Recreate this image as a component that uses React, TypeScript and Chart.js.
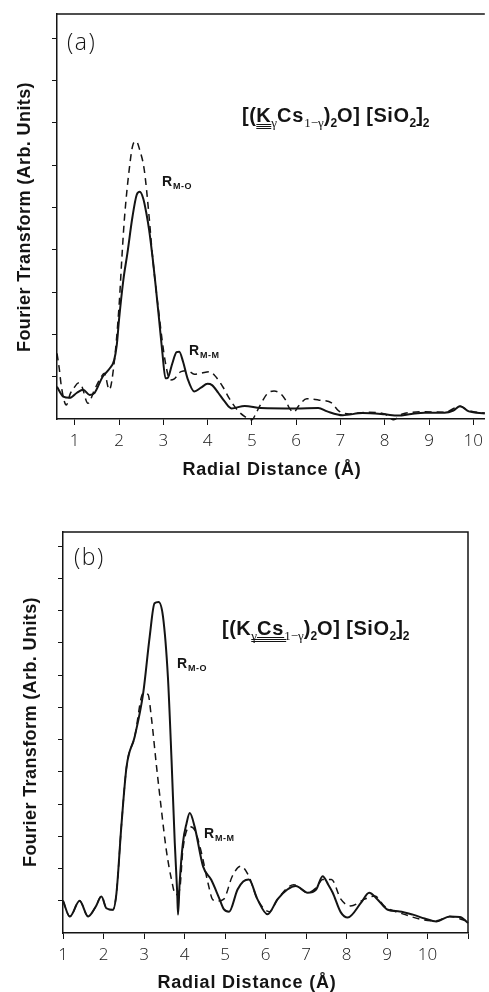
import React, { useEffect, useRef } from 'react';
import { Chart, registerables } from 'chart.js';

Chart.register(...registerables);

// ---------- Panel (a) data ----------
const A_X_TICKS = [1, 2, 3, 4, 5, 6, 7, 8, 9, 10];
const A_X_LABELS = ['1', '2', '3', '4', '5', '6', '7', '8', '9', '10'];
const A_Y_TICKS = [1, 2, 3, 4, 5, 6, 7, 8, 9];

const A_SOLID_X = [0.6, 0.74, 0.89, 1.05, 1.19, 1.34, 1.45, 1.63, 1.78, 1.89, 1.95, 2.0, 2.1, 2.19, 2.3, 2.4, 2.47, 2.55, 2.62, 2.68, 2.76, 2.83, 2.91, 2.98, 3.05, 3.1, 3.2, 3.3, 3.36, 3.45, 3.55, 3.7, 3.85, 4.0, 4.1, 4.24, 4.38, 4.54, 4.84, 5.2, 6.0, 6.5, 6.7, 7.05, 7.5, 8.0, 8.3, 8.6, 8.9, 9.35, 9.55, 9.7, 9.9, 10.26];
const A_SOLID_Y = [0.76, 0.53, 0.5, 0.62, 0.69, 0.57, 0.62, 1.0, 1.18, 1.39, 1.75, 2.34, 3.3, 3.92, 4.75, 5.3, 5.37, 5.2, 4.85, 4.47, 3.8, 3.13, 2.3, 1.56, 0.96, 0.97, 1.3, 1.58, 1.59, 1.34, 0.95, 0.65, 0.74, 0.83, 0.8, 0.62, 0.42, 0.25, 0.31, 0.26, 0.25, 0.26, 0.18, 0.09, 0.14, 0.11, 0.08, 0.12, 0.15, 0.15, 0.2, 0.3, 0.18, 0.13];

const A_DASHED_X = [0.6, 0.65, 0.7, 0.81, 0.9, 1.0, 1.08, 1.15, 1.3, 1.45, 1.6, 1.67, 1.78, 1.89, 2.0, 2.07, 2.12, 2.23, 2.32, 2.39, 2.47, 2.57, 2.68, 2.75, 2.9, 3.05, 3.16, 3.25, 3.4, 3.55, 3.7, 3.85, 4.05, 4.2, 4.35, 4.5, 4.7, 4.85, 5.0, 5.1, 5.2, 5.35, 5.5, 5.65, 5.76, 5.85, 5.95, 6.05, 6.24, 6.5, 6.8, 6.96, 7.2, 7.6, 8.0, 8.2, 8.4, 8.9, 9.35, 9.7, 9.9, 10.26];
const A_DASHED_Y = [1.55, 1.2, 0.76, 0.33, 0.6, 0.76, 0.85, 0.8, 0.37, 0.7, 1.0, 1.08, 0.69, 1.32, 2.65, 3.9, 4.7, 5.89, 6.5, 6.56, 6.35, 5.89, 4.78, 3.92, 2.5, 1.32, 0.92, 0.95, 1.12, 1.14, 1.06, 1.08, 1.12, 0.98, 0.75, 0.47, 0.18, 0.05, -0.02, 0.15, 0.35, 0.6, 0.66, 0.6, 0.45, 0.25, 0.16, 0.3, 0.48, 0.45, 0.38, 0.19, 0.12, 0.16, 0.12, -0.02, 0.12, 0.17, 0.16, 0.3, 0.2, 0.14];

// ---------- Panel (b) data ----------
const B_X_TICKS = [1, 2, 3, 4, 5, 6, 7, 8, 9, 10, 11];
const B_X_LABELS = ['1', '2', '3', '4', '5', '6', '7', '8', '9', '10', ''];
const B_Y_TICKS = [1, 2, 3, 4, 5, 6, 7, 8, 9, 10, 11, 12];

const B_SOLID_X = [1.0, 1.17, 1.41, 1.62, 1.8, 1.95, 2.07, 2.23, 2.32, 2.44, 2.57, 2.77, 2.98, 3.14, 3.26, 3.36, 3.47, 3.59, 3.68, 3.76, 3.82, 3.84, 3.88, 3.96, 4.05, 4.13, 4.25, 4.46, 4.66, 4.85, 4.97, 5.1, 5.31, 5.45, 5.59, 5.8, 6.05, 6.3, 6.54, 6.75, 7.04, 7.25, 7.41, 7.55, 7.66, 7.86, 8.03, 8.36, 8.56, 8.76, 9.02, 9.31, 9.64, 9.93, 10.22, 10.55, 10.8, 11.0];
const B_SOLID_Y = [1.0, 0.51, 1.0, 0.51, 0.8, 1.13, 0.77, 0.72, 1.24, 3.3, 5.16, 6.09, 7.44, 9.19, 10.23, 10.27, 9.81, 7.95, 5.37, 2.79, 1.24, 0.57, 1.55, 2.79, 3.4, 3.72, 3.3, 2.06, 1.65, 1.1, 0.74, 0.66, 1.35, 1.6, 1.66, 1.05, 0.58, 1.05, 1.35, 1.46, 1.25, 1.35, 1.76, 1.5, 1.25, 0.64, 0.48, 0.94, 1.25, 1.05, 0.72, 0.67, 0.57, 0.45, 0.36, 0.51, 0.5, 0.31];

const B_DASHED_X = [1.0, 1.17, 1.41, 1.62, 1.8, 1.95, 2.07, 2.23, 2.32, 2.44, 2.57, 2.77, 2.98, 3.1, 3.18, 3.31, 3.43, 3.55, 3.68, 3.78, 3.88, 3.96, 4.13, 4.25, 4.42, 4.58, 4.7, 4.81, 4.97, 5.18, 5.39, 5.59, 5.8, 6.1, 6.3, 6.7, 7.04, 7.25, 7.41, 7.63, 7.86, 8.1, 8.45, 8.7, 8.94, 9.45, 9.89, 10.22, 10.55, 11.0];
const B_DASHED_Y = [1.0, 0.51, 1.0, 0.51, 0.8, 1.15, 0.77, 0.72, 1.24, 3.3, 5.16, 6.09, 7.44, 7.4, 6.71, 5.16, 3.82, 2.58, 1.65, 1.19, 1.34, 2.58, 3.3, 3.2, 2.48, 1.55, 1.03, 0.99, 1.05, 1.76, 2.07, 1.76, 1.05, 0.66, 1.05, 1.5, 1.25, 1.4, 1.66, 1.66, 1.05, 0.84, 1.05, 1.15, 0.83, 0.57, 0.41, 0.38, 0.51, 0.36];

// ---------- Text ----------
const Y_TITLE = 'Fourier Transform (Arb. Units)';
const X_TITLE = 'Radial Distance (Å)';
const PEAK_MAIN = 'R';
const PEAK_MO = 'M-O';
const PEAK_MM = 'M-M';

const W = 489;
const H = 496;
const INK = '#141414';
const SANS = '"Liberation Sans", Arial, sans-serif';
const LIGHT = '"Open Sans", "DejaVu Sans", sans-serif';

type Seg = { t: string; font: string; dy?: number; ls?: number };

function drawSegs(ctx: CanvasRenderingContext2D, segs: Seg[], x: number, y: number) {
  const pos: { x: number; w: number }[] = [];
  let cx = x;
  for (const s of segs) {
    ctx.font = s.font;
    (ctx as any).letterSpacing = `${s.ls || 0}px`;
    ctx.fillText(s.t, cx, y + (s.dy || 0));
    const w = ctx.measureText(s.t).width;
    pos.push({ x: cx, w });
    cx += w;
  }
  (ctx as any).letterSpacing = '0px';
  return pos;
}

function hline(ctx: CanvasRenderingContext2D, x1: number, x2: number, y: number, lw = 1) {
  const yy = Math.round(y) + 0.5;
  ctx.beginPath();
  ctx.lineWidth = lw;
  ctx.moveTo(x1, yy);
  ctx.lineTo(x2, yy);
  ctx.stroke();
}

function formulaSegs(): Seg[] {
  const B = `bold 20px ${SANS}`;
  const S = `bold 12px ${SANS}`;
  const G = `13px "Liberation Serif", serif`;
  return [
    { t: '[(', font: B, ls: 0.5 },
    { t: 'K', font: B, ls: 0.5 },
    { t: 'γ', font: G, dy: 5 },
    { t: 'Cs', font: B, ls: 0.8 },
    { t: '1−γ', font: G, dy: 5 },
    { t: ')', font: B },
    { t: '2', font: S, dy: 5 },
    { t: 'O] [SiO', font: B, ls: 0.5 },
    { t: '2', font: S, dy: 5 },
    { t: ']', font: B },
    { t: '2', font: S, dy: 5 },
  ];
}

type Spec = {
  tag: string;
  xMin: number; xMax: number; yMax: number;
  xTicks: number[]; xLabels: string[]; yTicks: number[];
  sx: number[]; sy: number[]; dx: number[]; dy: number[];
  area: { left: number; top: number; right: number; bottom: number };
  frameRight: boolean;
  tagPos: [number, number];
  formulaPos: [number, number];
  under: 'K' | 'Cs';
  rmo: [number, number];
  rmm: [number, number];
  xTitle: [number, number];
  yTitle: [number, number];
};

const SPEC_A: Spec = {
  tag: '(a)',
  xMin: 0.6, xMax: 10.26, yMax: 9.57,
  xTicks: A_X_TICKS, xLabels: A_X_LABELS, yTicks: A_Y_TICKS,
  sx: A_SOLID_X, sy: A_SOLID_Y, dx: A_DASHED_X, dy: A_DASHED_Y,
  area: { left: 57, top: 14, right: 489, bottom: 419 },
  frameRight: false,
  tagPos: [67, 43],
  formulaPos: [242, 122],
  under: 'K',
  rmo: [162, 186],
  rmm: [189, 355],
  xTitle: [272, 470],
  yTitle: [25, 217],
};

const SPEC_B: Spec = {
  tag: '(b)',
  xMin: 1, xMax: 11, yMax: 12.44,
  xTicks: B_X_TICKS, xLabels: B_X_LABELS, yTicks: B_Y_TICKS,
  sx: B_SOLID_X, sy: B_SOLID_Y, dx: B_DASHED_X, dy: B_DASHED_Y,
  area: { left: 63, top: 36, right: 468, bottom: 437 },
  frameRight: true,
  tagPos: [74, 62],
  formulaPos: [222, 139],
  under: 'Cs',
  rmo: [177, 172],
  rmm: [204, 342],
  xTitle: [247, 487],
  yTitle: [31, 236],
};

function makeConfig(sp: Spec): any {
  const decor = {
    id: 'decor',
    afterDraw(chart: any) {
      const ctx: CanvasRenderingContext2D = chart.ctx;
      const ca = chart.chartArea;
      ctx.save();
      ctx.strokeStyle = INK;
      ctx.fillStyle = INK;
      // frame
      ctx.beginPath();
      ctx.lineWidth = 1.5;
      ctx.moveTo(ca.left - 0.75, ca.top);
      ctx.lineTo(ca.right, ca.top);
      if (sp.frameRight) ctx.lineTo(ca.right, ca.bottom);
      ctx.stroke();
      // tag
      ctx.textBaseline = 'middle';
      ctx.textAlign = 'left';
      ctx.font = `300 23px ${LIGHT}`;
      (ctx as any).letterSpacing = '1.5px';
      ctx.fillText(sp.tag, sp.tagPos[0], sp.tagPos[1]);
      (ctx as any).letterSpacing = '0px';
      // formula
      ctx.textBaseline = 'alphabetic';
      const pos = drawSegs(ctx, formulaSegs(), sp.formulaPos[0], sp.formulaPos[1]);
      const by = sp.formulaPos[1];
      if (sp.under === 'K') {
        const k = pos[1];
        hline(ctx, k.x, k.x + k.w, by + 2, 1);
        hline(ctx, k.x, k.x + k.w, by + 4, 1);
        hline(ctx, k.x, k.x + k.w, by + 6, 1);
      } else {
        const g = pos[2];
        const c = pos[3];
        hline(ctx, c.x, c.x + c.w, by + 2, 1);
        hline(ctx, g.x, c.x + c.w + 2, by + 4, 1);
        hline(ctx, g.x, c.x + c.w + 2, by + 6, 1);
      }
      // peak labels
      const peak = (p: [number, number], sub: string) => {
        drawSegs(ctx, [
          { t: PEAK_MAIN, font: `bold 14px ${SANS}`, ls: 1 },
          { t: sub, font: `bold 9px ${SANS}`, dy: 3, ls: 0.5 },
        ], p[0], p[1]);
      };
      peak(sp.rmo, PEAK_MO);
      peak(sp.rmm, PEAK_MM);
      // axis titles
      ctx.textAlign = 'center';
      ctx.textBaseline = 'middle';
      ctx.font = `bold 18px ${SANS}`;
      (ctx as any).letterSpacing = '0.8px';
      ctx.fillText(X_TITLE, sp.xTitle[0], sp.xTitle[1]);
      (ctx as any).letterSpacing = '0.4px';
      ctx.translate(sp.yTitle[0], sp.yTitle[1]);
      ctx.rotate(-Math.PI / 2);
      ctx.fillText(Y_TITLE, 0, 0);
      (ctx as any).letterSpacing = '0px';
      ctx.restore();
    },
  };

  const toPts = (xs: number[], ys: number[]) => xs.map((x, i) => ({ x, y: ys[i] }));

  return {
    type: 'line',
    data: {
      datasets: [
        {
          label: 'solid',
          data: toPts(sp.sx, sp.sy),
          borderColor: INK,
          borderWidth: 2,
          pointRadius: 0,
          fill: false,
          cubicInterpolationMode: 'monotone',
          clip: false,
        },
        {
          label: 'dashed',
          data: toPts(sp.dx, sp.dy),
          borderColor: INK,
          borderWidth: 1.5,
          borderDash: [7, 5],
          pointRadius: 0,
          fill: false,
          cubicInterpolationMode: 'monotone',
          clip: false,
        },
      ],
    },
    options: {
      responsive: false,
      animation: false,
      events: [],
      layout: { padding: { left: 0, top: sp.area.top, right: W - sp.area.right, bottom: 0 } },
      plugins: { legend: { display: false }, tooltip: { enabled: false } },
      scales: {
        x: {
          type: 'linear',
          min: sp.xMin,
          max: sp.xMax,
          afterBuildTicks: (s: any) => { s.ticks = sp.xTicks.map((v) => ({ value: v })); },
          afterFit: (s: any) => { s.height = H - sp.area.bottom; },
          ticks: {
            autoSkip: false,
            maxRotation: 0,
            padding: 6,
            color: INK,
            font: { family: LIGHT, size: 17, weight: '300' },
            callback: (v: number) => {
              const i = sp.xTicks.indexOf(v);
              return i >= 0 ? sp.xLabels[i] : '';
            },
          },
          grid: { drawOnChartArea: false, drawTicks: true, tickLength: 6, color: INK, lineWidth: 1 },
          border: { display: true, color: INK, width: 1.5 },
        },
        y: {
          type: 'linear',
          min: 0,
          max: sp.yMax,
          afterBuildTicks: (s: any) => { s.ticks = sp.yTicks.map((v) => ({ value: v })); },
          afterFit: (s: any) => { s.width = sp.area.left; },
          ticks: { display: false },
          grid: { drawOnChartArea: false, drawTicks: true, tickLength: 5, color: INK, lineWidth: 1 },
          border: { display: true, color: INK, width: 1.5 },
        },
      },
    },
    plugins: [decor],
  };
}

function Panel({ spec, top }: { spec: Spec; top: number }) {
  const ref = useRef<HTMLCanvasElement | null>(null);
  useEffect(() => {
    if (!ref.current) return;
    const chart = new Chart(ref.current, makeConfig(spec));
    return () => chart.destroy();
  }, [spec]);
  return (
    <canvas
      ref={ref}
      width={W}
      height={H}
      style={{ position: 'absolute', left: 0, top, width: W, height: H, display: 'block' }}
    />
  );
}

export default function App() {
  return (
    <div style={{ position: 'absolute', left: 0, top: 0, width: W, height: 992, background: '#fff', overflow: 'hidden' }}>
      <Panel spec={SPEC_A} top={0} />
      <Panel spec={SPEC_B} top={H} />
    </div>
  );
}
